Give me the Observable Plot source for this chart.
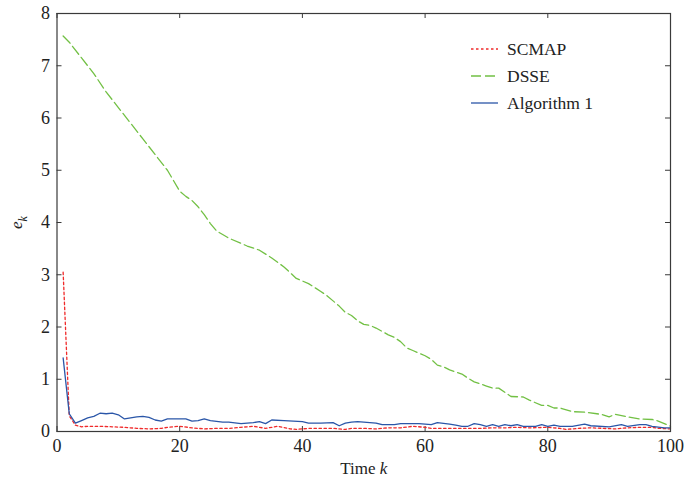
<!DOCTYPE html>
<html>
<head>
<meta charset="utf-8">
<script src="https://cdn.jsdelivr.net/npm/d3@7"></script>
<script src="https://cdn.jsdelivr.net/npm/@observablehq/plot@0.6"></script>
<style>
  html, body { margin: 0; padding: 0; background: #fff; }
  #chart { width: 684px; height: 483px; }
  svg { font-family: "Liberation Serif", "DejaVu Serif", serif; }
</style>
</head>
<body>
<div id="chart"></div>
<script>
// ---- data ----
const seriesNames = ["SCMAP", "DSSE", "Algorithm 1"];
const xTicks = [0, 20, 40, 60, 80, 100];
const yTicks = [0, 1, 2, 3, 4, 5, 6, 7, 8];

const kSCMAP = [1,2,3,4,5,7,9,11,13,15,17,18,20,22,24,26,28,30,32,34,36,38,39,41,43,45,47,48,50,52,54,56,58,60,61,63,65,67,69,71,73,75,77,80,82,83,85,87,89,91,93,95,97,98,100];
const vSCMAP = [3.05,0.3,0.12,0.09,0.1,0.1,0.09,0.08,0.06,0.05,0.06,0.08,0.1,0.07,0.05,0.06,0.06,0.08,0.1,0.06,0.1,0.05,0.04,0.06,0.06,0.06,0.04,0.06,0.06,0.05,0.07,0.07,0.1,0.08,0.06,0.06,0.06,0.06,0.06,0.07,0.07,0.08,0.07,0.08,0.06,0.04,0.06,0.07,0.06,0.05,0.07,0.08,0.08,0.06,0.05];

const kDSSE = [1,2,4,6,8,10,12,14,16,18,20,21,22,23,24,25,26,27,28,30,31,33,35,37,39,40,41,43,44,45,46,47,48,49,50,51,52,54,55,56,57,58,60,61,62,63,64,66,67,68,70,71,72,73,74,76,77,79,80,81,82,84,86,88,89,90,91,93,95,97,98,100];
const vDSSE = [7.57,7.45,7.15,6.85,6.5,6.2,5.9,5.6,5.3,5.0,4.6,4.5,4.42,4.3,4.15,3.98,3.84,3.77,3.7,3.6,3.55,3.47,3.32,3.15,2.93,2.88,2.83,2.68,2.6,2.5,2.4,2.28,2.22,2.12,2.05,2.03,1.98,1.85,1.8,1.72,1.6,1.55,1.45,1.38,1.27,1.24,1.18,1.1,1.02,0.95,0.87,0.83,0.83,0.75,0.67,0.66,0.6,0.5,0.5,0.45,0.45,0.38,0.37,0.34,0.32,0.28,0.33,0.28,0.24,0.23,0.2,0.1];

const kALG = [1,2,3,4,5,6,7,8,9,10,11,12,13,14,15,16,17,18,20,21,22,23,24,25,27,28,30,32,33,34,35,37,40,41,43,45,46,47,48,49,50,52,53,55,56,59,61,62,64,65,66,67,68,69,70,71,72,73,74,75,76,78,79,80,81,82,84,86,87,90,92,93,95,96,97,99,100];
const vALG = [1.41,0.34,0.16,0.21,0.26,0.29,0.35,0.34,0.35,0.32,0.24,0.26,0.28,0.29,0.27,0.22,0.2,0.24,0.24,0.24,0.2,0.21,0.24,0.21,0.18,0.18,0.15,0.17,0.19,0.15,0.22,0.21,0.19,0.16,0.16,0.17,0.11,0.16,0.18,0.19,0.18,0.16,0.13,0.13,0.15,0.15,0.13,0.17,0.14,0.12,0.1,0.1,0.15,0.13,0.1,0.13,0.1,0.13,0.11,0.13,0.1,0.1,0.13,0.1,0.12,0.1,0.1,0.14,0.11,0.09,0.13,0.1,0.13,0.13,0.1,0.07,0.07];

const colors = ["#f02a2a", "#72c044", "#2a56a8"];
const dashes = ["2.5,2.5", "10,4", null];

// ---- build tables ----
const toRows = (ks, vs) => ks.map((k, i) => ({k, v: vs[i]}));
const series = [toRows(kSCMAP, vSCMAP), toRows(kDSSE, vDSSE), toRows(kALG, vALG)];

const W = 684, H = 483;
const mL = 56.5, mR = 14, mT = 13, mB = 52;
const innerW = W - mL - mR, innerH = H - mT - mB;
const tickLen = 5;
const axisColor = "#3a3a3a";

const lineMarks = series.map((rows, i) => Plot.line(rows, {
  x: "k", y: "v", stroke: colors[i], strokeWidth: 1.3,
  strokeDasharray: dashes[i] ?? undefined
}));

const plot = Plot.plot({
  width: W, height: H,
  marginLeft: mL, marginRight: mR, marginTop: mT, marginBottom: mB,
  style: {fontFamily: "Liberation Serif, serif", background: "#fff"},
  x: {domain: [0, 100], ticks: xTicks, label: null},
  y: {domain: [0, 8], ticks: yTicks, label: null},
  marks: [
    // inward ticks on all four sides
    Plot.tickX(xTicks, {x: d => d, stroke: axisColor, insetTop: innerH - tickLen}),
    Plot.tickX(xTicks, {x: d => d, stroke: axisColor, insetBottom: innerH - tickLen}),
    Plot.tickY(yTicks, {y: d => d, stroke: axisColor, insetRight: innerW - tickLen}),
    Plot.tickY(yTicks, {y: d => d, stroke: axisColor, insetLeft: innerW - tickLen}),
    Plot.axisX(xTicks, {tickSize: 0, tickPadding: 8, fontSize: 18, fill: "#222", label: null, tickFormat: d3.format("d")}),
    Plot.axisY(yTicks, {tickSize: 0, tickPadding: 7, fontSize: 18, fill: "#222", label: null, tickFormat: d3.format("d")}),
    ...lineMarks,
    Plot.frame({stroke: axisColor, strokeWidth: 1.2}),
    Plot.text(["Time "], {frameAnchor: "bottom", dy: 42, fontSize: 17, fill: "#222", className: "xlab"}),
    Plot.text(["e"], {frameAnchor: "left", dx: -40, dy: 0, rotate: -90, fontSize: 17, fill: "#222", fontStyle: "italic", className: "ylab"})
  ]
});

document.getElementById("chart").appendChild(plot);
const svg = d3.select(plot);

// italic k in x label
svg.selectAll(".xlab text").each(function() {
  d3.select(this).append("tspan").attr("font-style", "italic").text("k");
});
// subscript k in y label
svg.selectAll(".ylab text").each(function() {
  d3.select(this).attr("text-anchor", "middle")
    .append("tspan").attr("font-size", 12).attr("dy", "0.35em").text("k");
});

// legend
const legend = svg.append("g").attr("font-size", 17.5).attr("fill", "#222").attr("text-anchor", "start");
const lx = 471, ly = 49, step = 27, lineLen = 27;
seriesNames.forEach((name, i) => {
  const y = ly + i * step;
  const line = legend.append("line")
    .attr("x1", lx).attr("x2", lx + lineLen).attr("y1", y).attr("y2", y)
    .attr("stroke", colors[i]).attr("stroke-width", 1.3);
  if (dashes[i]) line.attr("stroke-dasharray", dashes[i]);
  legend.append("text").attr("x", lx + lineLen + 9).attr("y", y).attr("dy", "0.35em")
    .attr("text-anchor", "start").text(name);
});
</script>
</body>
</html>
